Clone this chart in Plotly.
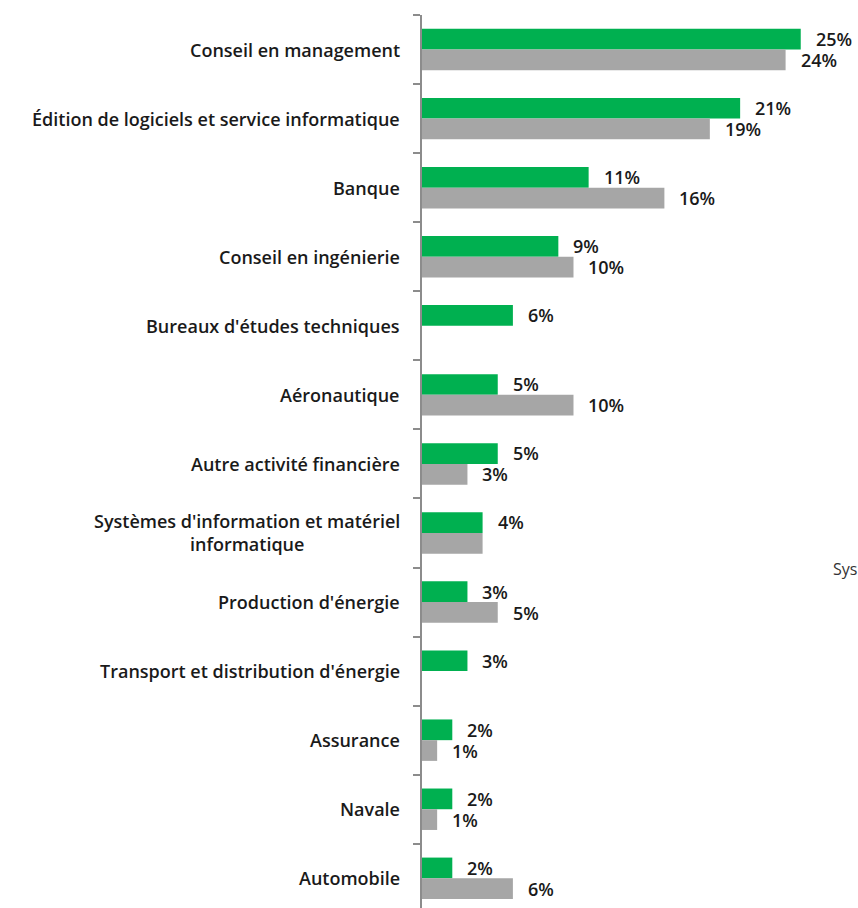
import plotly.graph_objects as go

categories = [
    "Conseil en management",
    "Édition de logiciels et service informatique",
    "Banque",
    "Conseil en ingénierie",
    "Bureaux d'études techniques",
    "Aéronautique",
    "Autre activité financière",
    "Systèmes d'information et matériel<br>informatique",
    "Production d'énergie",
    "Transport et distribution d'énergie",
    "Assurance",
    "Navale",
    "Automobile",
]
series_green = [25, 21, 11, 9, 6, 5, 5, 4, 3, 3, 2, 2, 2]
series_gray = [24, 19, 16, 10, None, 10, 3, 4, 5, None, 1, 1, 6]
labels_green = ["25%", "21%", "11%", "9%", "6%", "5%", "5%", "4%", "3%", "3%", "2%", "2%", "2%"]
labels_gray = ["24%", "19%", "16%", "10%", "", "10%", "3%", "", "5%", "", "1%", "1%", "6%"]

GREEN = "#00B050"
GRAY = "#A6A6A6"
FONT = "Open Sans"
TXT = "#1a1a1a"
FS = 18

fig = go.Figure()
fig.add_trace(go.Bar(y=categories, x=series_green, orientation="h",
                     marker=dict(color=GREEN, line=dict(width=0)), name="A"))
fig.add_trace(go.Bar(y=categories, x=series_gray, orientation="h",
                     marker=dict(color=GRAY, line=dict(width=0)), name="B"))

annotations = []
for cat, v, t in zip(categories, series_green, labels_green):
    if t:
        annotations.append(dict(x=v, y=cat, xref="x", yref="y", text=t, showarrow=False,
                                xanchor="left", yanchor="middle", xshift=13, yshift=10.5,
                                font=dict(family=FONT, size=FS, color=TXT, weight=600)))
for cat, v, t in zip(categories, series_gray, labels_gray):
    if t and v is not None:
        annotations.append(dict(x=v, y=cat, xref="x", yref="y", text=t, showarrow=False,
                                xanchor="left", yanchor="middle", xshift=13, yshift=-10.5,
                                font=dict(family=FONT, size=FS, color=TXT, weight=600)))
for cat in categories:
    annotations.append(dict(x=0, y=cat, xref="paper", yref="y", text=cat, showarrow=False,
                            xanchor="right", yanchor="middle", xshift=-20, align="center",
                            font=dict(family=FONT, size=FS, color=TXT, weight=600)))
annotations.append(dict(x=1, y=0.38, xref="paper", yref="paper", text="Sys", showarrow=False,
                        xanchor="left", yanchor="middle", xshift=-27,
                        font=dict(family=FONT, size=16, color="#333333")))

fig.update_layout(
    width=858, height=908,
    margin=dict(l=422, r=0, t=14.5, b=0),
    paper_bgcolor="white", plot_bgcolor="white",
    barmode="group", bargap=0.4, bargroupgap=0,
    showlegend=False,
    annotations=annotations,
    xaxis=dict(range=[0, 28.78], visible=False, fixedrange=True),
    yaxis=dict(type="category", range=[12.43, -0.5], showticklabels=False,
               ticks="outside", tickson="boundaries", ticklen=7, tickcolor="#8c8c8c",
               tickwidth=2, showline=True, linecolor="#8c8c8c", linewidth=2,
               showgrid=False, zeroline=False),
)

fig.write_html("out.html", config={"displayModeBar": False},
               post_script="document.body.style.margin='0';document.body.style.overflow='hidden';")
